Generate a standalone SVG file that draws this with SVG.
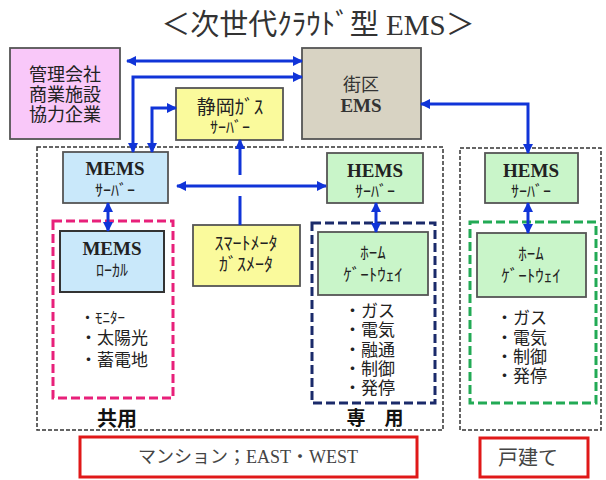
<svg xmlns="http://www.w3.org/2000/svg" width="606" height="480" viewBox="0 0 606 480">
<style>
.box{stroke:#555;stroke-width:1.8}
.jp{font-family:"Noto Sans CJK JP","Noto Sans",sans-serif;fill:#222}
.en{font-family:"Liberation Serif","Noto Sans CJK JP",serif;font-weight:bold;fill:#222}
.c{text-anchor:middle}
.grp{fill:none;stroke:#333;stroke-width:1.5;stroke-dasharray:4 2}
.cg{fill:none;stroke-width:3;stroke-dasharray:9 4}
.con{fill:none;stroke:#1034d8;stroke-width:3}
.red{fill:#fff;stroke:#e01818;stroke-width:3}
</style>
<defs>
<marker id="ah" viewBox="0 0 10 10" refX="9" refY="5" markerUnits="userSpaceOnUse" markerWidth="10" markerHeight="11" orient="auto-start-reverse">
<path d="M0,0 L10,5 L0,10 z" fill="#1034d8"/>
</marker>
</defs>
<rect width="606" height="480" fill="#fff"/>
<text x="318" y="35" font-size="29" class="c" style="font-family:'Liberation Serif','Noto Sans CJK JP',serif;fill:#333">＜次世代ｸﾗｳﾄﾞ型 EMS＞</text>

<g id="group-mansion">
<rect x="37" y="147" width="406" height="283" class="grp"/>
<text x="117" y="426" font-size="20" class="jp c" style="font-weight:700;fill:#111">共用</text>
<text x="375" y="425" font-size="19" class="jp c" style="font-weight:700;fill:#111">専　用</text>
</g>
<g id="group-house">
<rect x="460" y="148" width="141" height="282" class="grp"/>
</g>
<g id="group-shared">
<rect x="53" y="221" width="120" height="177" class="cg" stroke="#e8207a"/>
<text x="80" y="323" font-size="15" class="jp">・ﾓﾆﾀｰ</text>
<text x="80" y="344" font-size="17" class="jp">・太陽光</text>
<text x="80" y="366" font-size="17" class="jp">・蓄電地</text>
</g>
<g id="group-dedicated">
<rect x="312" y="223" width="123" height="180" class="cg" stroke="#1a2a6a"/>
<text x="344" y="317" font-size="17" class="jp">・ガス</text>
<text x="344" y="336" font-size="17" class="jp">・電気</text>
<text x="344" y="356" font-size="17" class="jp">・融通</text>
<text x="344" y="375" font-size="17" class="jp">・制御</text>
<text x="344" y="394" font-size="17" class="jp">・発停</text>
</g>
<g id="group-house-inner">
<rect x="470" y="222" width="126" height="181" class="cg" stroke="#22aa55"/>
<text x="496" y="324" font-size="17" class="jp">・ガス</text>
<text x="496" y="344" font-size="17" class="jp">・電気</text>
<text x="496" y="363" font-size="17" class="jp">・制御</text>
<text x="496" y="382" font-size="17" class="jp">・発停</text>
</g>

<g id="management">
<rect x="10" y="48" width="110" height="91" fill="#f9c8f9" class="box"/>
<text x="65" y="81" font-size="18" class="jp c">管理会社</text>
<text x="65" y="101" font-size="18" class="jp c">商業施設</text>
<text x="65" y="121" font-size="18" class="jp c">協力企業</text>
</g>
<g id="gas-server">
<rect x="176" y="88" width="107" height="52" fill="#fafa9c" class="box"/>
<text x="230" y="114" font-size="19" class="jp c">静岡ｶﾞｽ</text>
<text x="230" y="133" font-size="16" class="jp c">ｻｰﾊﾞｰ</text>
</g>
<g id="district-ems">
<rect x="302" y="48" width="119" height="91" fill="#d8d3c3" class="box"/>
<text x="361" y="91" font-size="18" class="jp c" style="fill:#333">街区</text>
<text x="361" y="112" font-size="19" class="en c" style="fill:#333">EMS</text>
</g>
<g id="mems-server">
<rect x="63" y="152" width="105" height="51" fill="#c9e8fa" class="box"/>
<text x="115" y="175" font-size="19" class="en c">MEMS</text>
<text x="115" y="196" font-size="16" class="jp c">ｻｰﾊﾞｰ</text>
</g>
<g id="hems-server-1">
<rect x="327" y="153" width="96" height="50" fill="#c9f5c9" class="box"/>
<text x="375" y="177" font-size="19" class="en c">HEMS</text>
<text x="375" y="197" font-size="16" class="jp c">ｻｰﾊﾞｰ</text>
</g>
<g id="hems-server-2">
<rect x="485" y="153" width="93" height="50" fill="#c9f5c9" class="box"/>
<text x="531" y="177" font-size="19" class="en c">HEMS</text>
<text x="531" y="197" font-size="16" class="jp c">ｻｰﾊﾞｰ</text>
</g>
<g id="mems-local">
<rect x="60" y="231" width="104" height="61" fill="#c9e8fa" stroke="#333" stroke-width="2"/>
<text x="112" y="255" font-size="19" class="en c">MEMS</text>
<text x="112" y="276" font-size="16" class="jp c">ﾛｰｶﾙ</text>
</g>
<g id="smart-meter">
<rect x="193" y="225" width="107" height="61" fill="#fafa9c" class="box"/>
<text x="246" y="250" font-size="18" class="jp c">ｽﾏｰﾄﾒｰﾀ</text>
<text x="246" y="271" font-size="18" class="jp c">ｶﾞｽﾒｰﾀ</text>
</g>
<g id="home-gateway-1">
<rect x="318" y="232" width="110" height="63" fill="#c9f5c9" class="box"/>
<text x="373" y="259" font-size="17" class="jp c">ﾎｰﾑ</text>
<text x="373" y="281" font-size="17" class="jp c">ｹﾞｰﾄｳｪｲ</text>
</g>
<g id="home-gateway-2">
<rect x="477" y="233" width="109" height="64" fill="#c9f5c9" class="box"/>
<text x="531" y="260" font-size="17" class="jp c">ﾎｰﾑ</text>
<text x="531" y="282" font-size="17" class="jp c">ｹﾞｰﾄｳｪｲ</text>
</g>
<g id="label-mansion">
<rect x="80" y="437" width="337" height="40" class="red"/>
<text x="248" y="463" font-size="18" class="c" style="font-family:'Liberation Serif','Noto Sans CJK JP',serif;fill:#444">マンション；EAST・WEST</text>
</g>
<g id="label-house">
<rect x="480" y="438" width="108" height="39" class="red"/>
<text x="528" y="465" font-size="20" class="jp c" style="fill:#444">戸建て</text>
</g>

<g id="connectors">
<path d="M127,61 H302" class="con" marker-start="url(#ah)" marker-end="url(#ah)"/>
<path d="M133,152 V77 H302" class="con" marker-start="url(#ah)" marker-end="url(#ah)"/>
<path d="M152,152 V108 H176" class="con" marker-start="url(#ah)" marker-end="url(#ah)"/>
<path d="M421,104 H528 V153" class="con" marker-start="url(#ah)" marker-end="url(#ah)"/>
<path d="M177,186 H326" class="con" marker-start="url(#ah)" marker-end="url(#ah)"/>
<path d="M240,225 V196" class="con"/>
<path d="M240,175 V140" class="con" marker-end="url(#ah)"/>
<path d="M108,203 V231" class="con" marker-start="url(#ah)" marker-end="url(#ah)"/>
<path d="M376,203 V232" class="con" marker-start="url(#ah)" marker-end="url(#ah)"/>
<path d="M528,203 V233" class="con" marker-start="url(#ah)" marker-end="url(#ah)"/>
</g>
</svg>
